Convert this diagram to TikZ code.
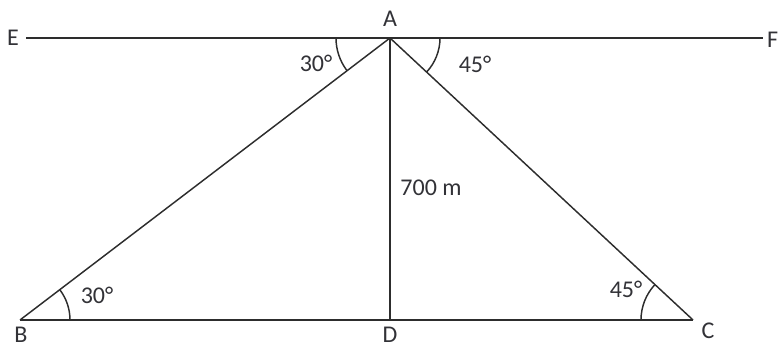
\documentclass[tikz,border=0pt]{standalone}
\usepackage{fontspec}
\setmainfont{Carlito}
\usetikzlibrary{angles}
\definecolor{lineGray}{RGB}{45,45,45}
\definecolor{textGray}{RGB}{50,50,55}

\begin{document}
\begin{tikzpicture}[
  x=0.03cm, y=0.03cm,
  font=\fontsize{20.5}{24}\selectfont,
  seg/.style={
    draw=lineGray,
    line width=1.25pt,
  },
  lbl/.style={
    text=textGray,
    inner sep=0pt,
  },
  ang/.style={
    draw=lineGray,
    line width=1.25pt,
  },
]

  \useasboundingbox (0,0) rectangle (781,348);

  % points of the figure
  \coordinate (E) at (26,310);
  \coordinate (F) at (763,310);
  \coordinate (A) at (390,310);
  \coordinate (B) at (20,28);
  \coordinate (D) at (390,28);
  \coordinate (C) at (693,28);

  \draw[seg] (E) -- (F);
  \draw[seg] (B) -- (C);
  \draw[seg] (A) -- (B);
  \draw[seg] (A) -- (C);
  \draw[seg] (A) -- (D);

  % angle marks
  \pic[ang, angle radius=54*0.03cm] {angle = E--A--B};
  \pic[ang, angle radius=50*0.03cm] {angle = C--A--F};
  \pic[ang, angle radius=50*0.03cm] {angle = C--B--A};
  \pic[ang, angle radius=52*0.03cm] {angle = A--C--B};

  % letters
  \node[lbl] (lE) at (13,310) {E};
  \node[lbl, anchor=west] (lF) at (767,308) {F};
  \node[lbl] (lA) at (390,329) {A};
  \node[lbl] (lB) at (21,13) {B};
  \node[lbl] (lD) at (390,13) {D};
  \node[lbl] (lC) at (708,17) {C};

  % values
  \node[lbl] (a1) at (316,285) {30°};
  \node[lbl] (a2) at (475,284) {45°};
  \node[lbl] (a3) at (97,53) {30°};
  \node[lbl] (a4) at (626,59) {45°};
  \node[lbl] (h) at (431,160) {700 m};

\end{tikzpicture}
\end{document}
